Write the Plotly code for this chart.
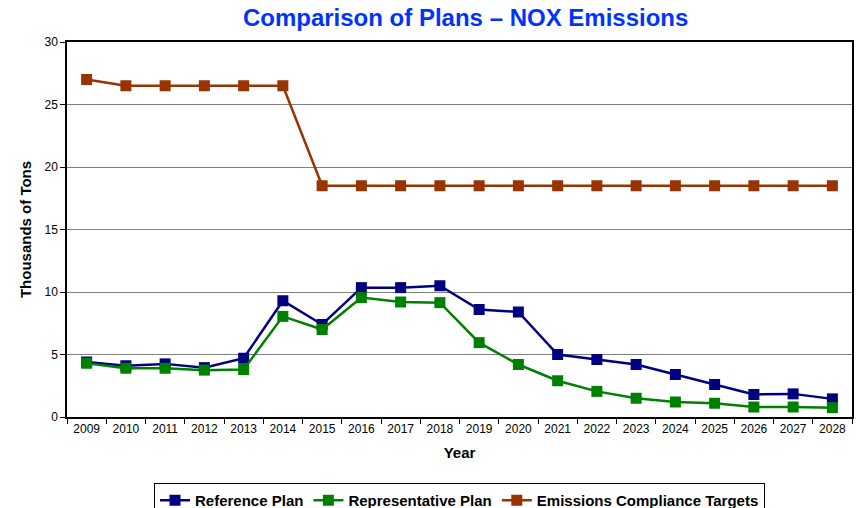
import plotly.graph_objs as go

# Datos
years = [str(y) for y in range(2009, 2029)]
reference_plan = [4.4, 4.1, 4.25, 3.95, 4.7, 9.3, 7.4, 10.35, 10.35, 10.5,
                  8.6, 8.4, 5.0, 4.6, 4.2, 3.4, 2.6, 1.8, 1.85, 1.45]
representative_plan = [4.3, 3.9, 3.9, 3.75, 3.8, 8.05, 7.0, 9.55, 9.2, 9.15,
                       5.95, 4.2, 2.9, 2.05, 1.5, 1.2, 1.1, 0.8, 0.8, 0.75]
compliance_targets = [27.0, 26.5, 26.5, 26.5, 26.5, 26.5, 18.5, 18.5, 18.5, 18.5,
                      18.5, 18.5, 18.5, 18.5, 18.5, 18.5, 18.5, 18.5, 18.5, 18.5]

series = [
    ("Reference Plan", reference_plan, "#000080"),
    ("Representative Plan", representative_plan, "#008000"),
    ("Emissions Compliance Targets", compliance_targets, "#993300"),
]

fig = go.Figure()

for name, values, color in series:
    fig.add_trace(
        go.Scatter(
            x=years,
            y=values,
            mode='lines+markers',
            name="<b>" + name + "</b>",
            line=dict(color=color, width=2.5),
            marker=dict(symbol='square', size=11, color=color),
        )
    )

font_family = "Liberation Sans, Arial, sans-serif"

fig.update_layout(
    width=856,
    height=508,
    paper_bgcolor='white',
    plot_bgcolor='white',
    margin=dict(l=67, r=4, t=42, b=91, autoexpand=False),
    font=dict(family=font_family, size=12, color='black'),
    title=dict(
        text="<b>Comparison of Plans – NOX Emissions</b>",
        font=dict(size=24, color='#0033FF'),
        x=0.544, xanchor='center', y=0.965, yanchor='middle',
    ),
    xaxis=dict(
        type='category',
        range=[-0.5, len(years) - 0.5],
        tickson='boundaries',
        ticks='outside', ticklen=5, tickcolor='black',
        showline=True, linecolor='black', linewidth=1.5, mirror=True,
        showgrid=False,
        automargin=False,
        title=dict(text="<b>Year</b>", font=dict(size=15), standoff=12),
    ),
    yaxis=dict(
        range=[0, 30], dtick=5,
        ticks='outside', ticklen=5, tickcolor='black',
        showline=True, linecolor='black', linewidth=1.5, mirror=True,
        showgrid=True, gridcolor='#808080', gridwidth=1.2,
        zeroline=False,
        automargin=False,
        title=dict(text="<b>Thousands of Tons</b>", font=dict(size=15), standoff=9),
    ),
    legend=dict(
        orientation='h',
        x=0.5, xanchor='center',
        y=-0.176, yanchor='top',
        bordercolor='black', borderwidth=1,
        font=dict(size=15),
        itemwidth=30,
        traceorder='normal',
    ),
)

# quitar el margen del body para que la figura empiece en (0, 0)
fig.write_html("out.html", config={'displayModeBar': False},
               post_script="document.body.style.margin='0';")
